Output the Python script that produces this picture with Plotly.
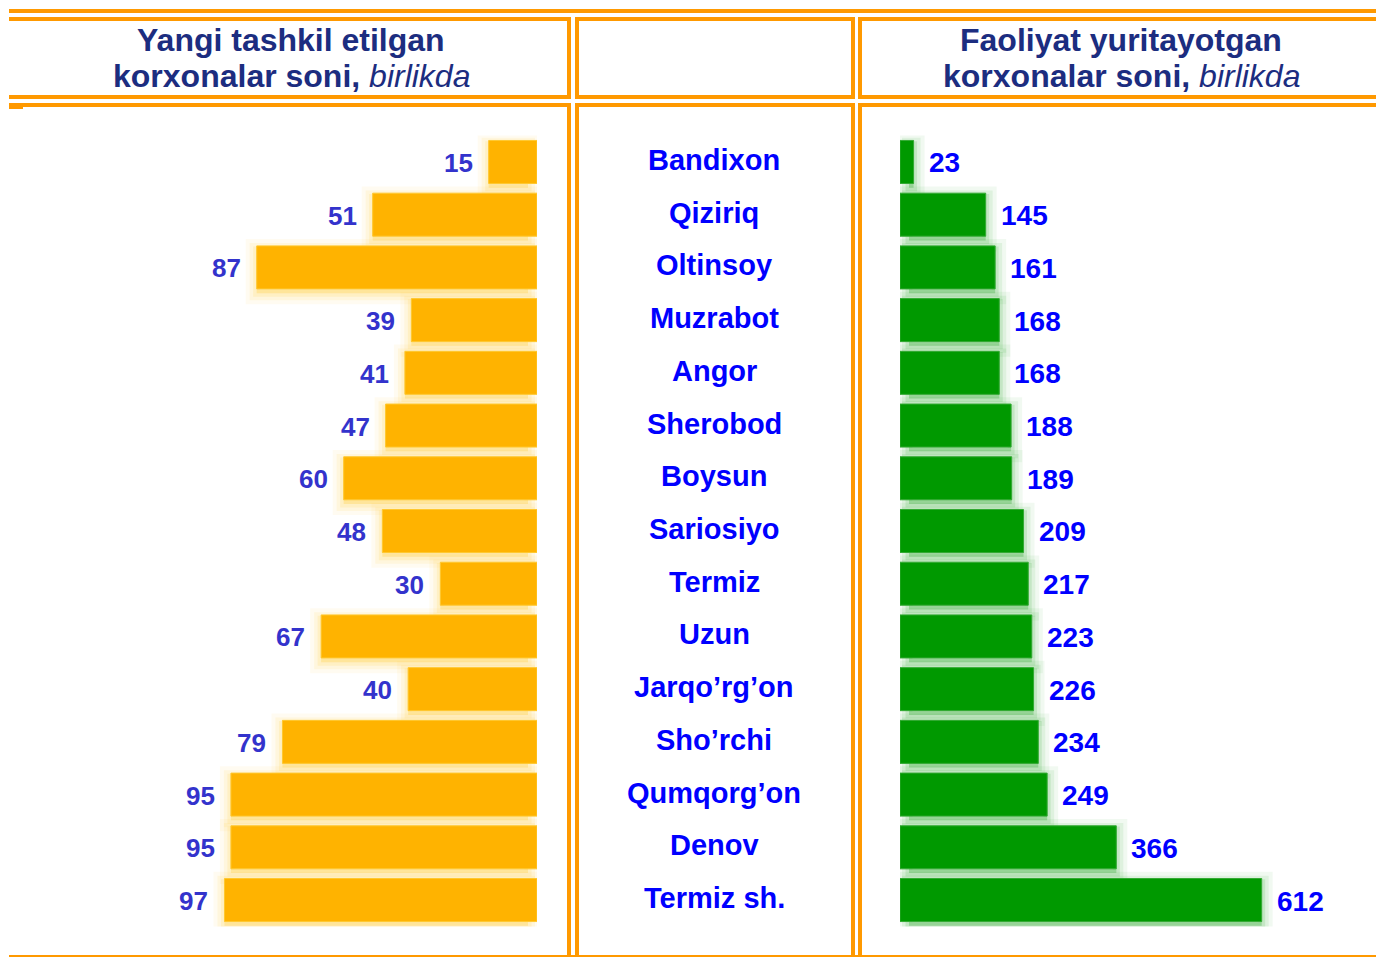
import plotly.graph_objects as go

# ---------------- data ----------------
districts = ["Bandixon", "Qiziriq", "Oltinsoy", "Muzrabot", "Angor", "Sherobod",
             "Boysun", "Sariosiyo", "Termiz", "Uzun", "Jarqo’rg’on", "Sho’rchi",
             "Qumqorg’on", "Denov", "Termiz sh."]
new_firms = [15, 51, 87, 39, 41, 47, 60, 48, 30, 67, 40, 79, 95, 95, 97]
active_firms = [23, 145, 161, 168, 168, 188, 189, 209, 217, 223, 226, 234, 249, 366, 612]

header_left = ["Yangi tashkil etilgan", "korxonalar soni,", "birlikda"]
header_right = ["Faoliyat yuritayotgan", "korxonalar soni,", "birlikda"]

# ---------------- style ----------------
W, H = 1376, 957
FONT = "Liberation Sans, Arial, sans-serif"
ORANGE_BAR = "#FFB300"
GREEN_BAR = "#009900"
FRAME = "#FF9900"
NAVY = "#1C2D80"
BLUE = "#0000FF"
VIOLET = "#3333CC"

def px(x):
    return x / W

def py(y):
    return 1 - y / H

# pixel geometry of the plotting areas
L_LEFT, L_ZERO, L_SCALE = 10, 537, 3.222      # left panel, px per unit
R_ZERO, R_RIGHT, R_SCALE = 900, 1376, 0.591   # right panel, px per unit
Y_TOP, Y_BOT = 135.6, 926.4
BAR_W = 0.816

fig = go.Figure()

# soft glow behind the bars
for lw, a in [(22, 0.07), (14, 0.10), (7, 0.14)]:
    fig.add_trace(go.Bar(
        y=districts, x=[v - 9 / L_SCALE for v in new_firms], base=9 / L_SCALE,
        orientation="h", xaxis="x", yaxis="y",
        width=BAR_W, offset=-BAR_W / 2 + 0.08,
        marker=dict(color=f"rgba(255,205,50,{a})",
                    line=dict(color=f"rgba(255,205,50,{a})", width=lw)),
        hoverinfo="skip", showlegend=False))
    fig.add_trace(go.Bar(
        y=districts, x=[v - 9 / R_SCALE for v in active_firms], base=9 / R_SCALE,
        orientation="h", xaxis="x2", yaxis="y",
        width=BAR_W, offset=-BAR_W / 2 + 0.08,
        marker=dict(color=f"rgba(0,150,0,{a * 0.8})",
                    line=dict(color=f"rgba(0,150,0,{a * 0.8})", width=lw)),
        hoverinfo="skip", showlegend=False))

fig.add_trace(go.Bar(
    y=districts, x=new_firms, orientation="h", xaxis="x", yaxis="y",
    width=BAR_W, marker=dict(color=ORANGE_BAR, line=dict(color="#FFC830", width=1)),
    showlegend=False, name="Yangi tashkil etilgan"))
fig.add_trace(go.Bar(
    y=districts, x=active_firms, orientation="h", xaxis="x2", yaxis="y",
    width=BAR_W, marker=dict(color=GREEN_BAR, line=dict(color="#33AA33", width=1)),
    showlegend=False, name="Faoliyat yuritayotgan"))

annotations = []
for d, v in zip(districts, new_firms):
    annotations.append(dict(x=v, y=d, xref="x", yref="y", text=f"<b>{v}</b>",
                            showarrow=False, xanchor="right", xshift=-14, yshift=-1,
                            font=dict(family=FONT, size=26, color=VIOLET)))
for d, v in zip(districts, active_firms):
    annotations.append(dict(x=v, y=d, xref="x2", yref="y", text=f"<b>{v}</b>",
                            showarrow=False, xanchor="left", xshift=13, yshift=-1,
                            font=dict(family=FONT, size=28, color=BLUE)))
for d in districts:
    annotations.append(dict(x=px(714), y=d, xref="paper", yref="y", text=f"<b>{d}</b>",
                            showarrow=False, xanchor="center", yshift=2,
                            font=dict(family=FONT, size=29, color=BLUE)))

for cx, hdr in [(291, header_left), (1121, header_right)]:
    annotations.append(dict(x=px(cx), y=py(40), xref="paper", yref="paper",
                            text=f"<b>{hdr[0]}</b>", showarrow=False,
                            xanchor="center", yanchor="middle",
                            font=dict(family=FONT, size=32, color=NAVY)))
    annotations.append(dict(x=px(cx), y=py(76), xref="paper", yref="paper",
                            text=f"<b>{hdr[1]}</b> <i>{hdr[2]}</i>", showarrow=False,
                            xanchor="center", yanchor="middle",
                            font=dict(family=FONT, size=32, color=NAVY)))

# ---------------- frame lines ----------------
shapes = []
def hline(x0, x1, y, w=4):
    shapes.append(dict(type="line", xref="paper", yref="paper",
                       x0=px(x0), x1=px(x1), y0=py(y), y1=py(y),
                       line=dict(color=FRAME, width=w), layer="above"))
def vline(x, y0, y1, w=4):
    shapes.append(dict(type="line", xref="paper", yref="paper",
                       x0=px(x), x1=px(x), y0=py(y0), y1=py(y1),
                       line=dict(color=FRAME, width=w), layer="above"))

hline(9, 1376, 11)
# header row
hline(9, 571, 19); hline(9, 571, 97); vline(569, 17, 99)
hline(575, 855, 19); hline(575, 855, 97); vline(577, 17, 99); vline(853, 17, 99)
hline(858, 1376, 19); hline(858, 1376, 97); vline(860, 17, 99)
# body row
hline(9, 571, 105); vline(569, 103, 957)
hline(9, 23, 107)
hline(575, 855, 105); vline(577, 103, 957); vline(853, 103, 957)
hline(858, 1376, 105); vline(860, 103, 957)
hline(9, 1376, 956, w=2)

fig.update_layout(
    width=W, height=H, margin=dict(l=0, r=0, t=0, b=0),
    paper_bgcolor="white", plot_bgcolor="white",
    barmode="overlay", bargap=0.18,
    font=dict(family=FONT),
    xaxis=dict(domain=[px(L_LEFT), px(L_ZERO)],
               range=[(L_ZERO - L_LEFT) / L_SCALE, 0],
               visible=False, fixedrange=True),
    xaxis2=dict(domain=[px(R_ZERO), px(R_RIGHT)],
                range=[0, (R_RIGHT - R_ZERO) / R_SCALE],
                visible=False, fixedrange=True),
    yaxis=dict(domain=[py(Y_BOT), py(Y_TOP)], type="category",
               categoryorder="array", categoryarray=districts,
               autorange="reversed", visible=False, fixedrange=True),
    annotations=annotations, shapes=shapes,
)

fig.write_html("out.html", post_script="document.body.style.margin='0px';",
               config={"displayModeBar": False})
